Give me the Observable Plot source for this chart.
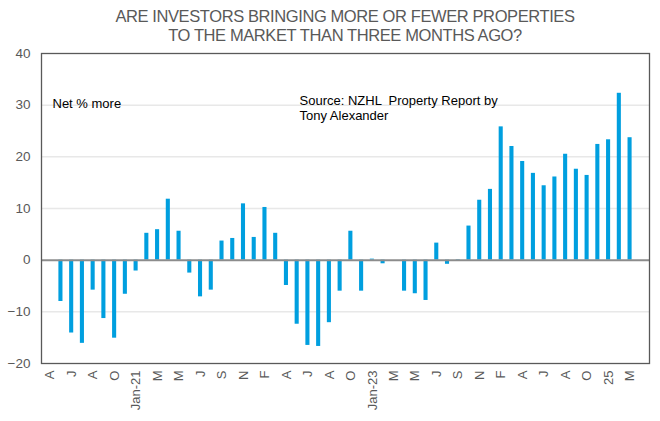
<!DOCTYPE html>
<html>
<head>
<meta charset="utf-8">
<script src="https://cdn.jsdelivr.net/npm/d3@7"></script>
<script src="https://cdn.jsdelivr.net/npm/@observablehq/plot@0.6"></script>
<style>
  html, body { margin: 0; padding: 0; background: #fff; }
  #wrap { width: 660px; height: 421px; position: relative; overflow: hidden; }
  #title { height: 45px; font-family: "Liberation Sans", Arial, sans-serif; font-size: 16.5px; color: #595959;
           text-align: center; line-height: 19px; padding-top: 7px; box-sizing: border-box; padding-left: 30px; letter-spacing: -0.4px; }
  svg { display: block; }
</style>
</head>
<body>
<div id="wrap">
  <div id="title">ARE INVESTORS BRINGING MORE OR FEWER PROPERTIES<br>TO THE MARKET THAN THREE MONTHS AGO?</div>
  <div id="chart"></div>
</div>
<script>
// Tick labels (every second period)
const tickLabels = ["A","J","A","O","Jan-21","M","M","J","S","N","F","A","J","A","O","Jan-23","M","M","J","S","N","F","A","J","A","O","25","M"];
// Net % more, one value per survey period (first and last period empty)
const values = [null, -8.0, -14.1, -16.1, -5.8, -11.3, -15.1, -6.6, -2.1, 5.2,
  5.9, 11.8, 5.6, -2.5, -7.1, -5.8, 3.7, 4.2, 10.9, 4.4,
  10.2, 5.2, -4.9, -12.4, -16.5, -16.7, -12.1, -6.0, 5.6, -6.0,
  0.2, -0.7, 0, -6.0, -6.5, -7.8, 3.3, -0.8, 0.1, 6.6,
  11.6, 13.7, 25.8, 22.0, 19.1, 16.8, 14.4, 16.1, 20.5, 17.6,
  16.4, 22.4, 23.3, 32.3, 23.7, null];
const yTicks = [-20, -10, 0, 10, 20, 30, 40];
const gridTicks = [-10, 10, 20, 30];
const noteLeft = "Net % more";
const noteSource = ["Source: NZHL  Property Report by", "Tony Alexander"];

const periods = values.map((v, i) => i);
const data = periods.map(i => ({period: i, value: values[i]}));
const labelAt = new Map(tickLabels.map((t, k) => [k * 2, t]));

const font = "'Liberation Sans', Arial, sans-serif";

const chart = Plot.plot({
  width: 660,
  height: 376,
  marginTop: 8,
  marginBottom: 58,
  marginLeft: 41,
  marginRight: 11,
  style: {fontFamily: font, fontSize: "13px", color: "#595959", background: "#fff"},
  x: {type: "band", domain: periods, padding: 0.62, align: 0.5},
  y: {domain: [-20, 40]},
  marks: [
    Plot.ruleY(gridTicks, {stroke: "#e8e8e8", strokeWidth: 1.5}),
    Plot.barY(data.filter(d => d.value != null), {x: "period", y: "value", fill: "#009FDF"}),
    Plot.ruleY([0], {stroke: "#8c8c8c", strokeWidth: 2}),
    Plot.frame({stroke: "#595959", strokeWidth: 1.3}),
    Plot.axisY({ticks: yTicks, tickSize: 0, tickPadding: 11, fontSize: 13.5, fill: "#595959", label: null}),
    Plot.axisX({ticks: [...labelAt.keys()], tickFormat: d => labelAt.get(d), tickSize: 0, tickPadding: 7,
      tickRotate: -90, fontSize: 13, fill: "#595959", label: null}),
    Plot.text([noteLeft], {frameAnchor: "top-left", dx: 11, dy: 45, text: d => d, fontSize: 13, fill: "#000", textAnchor: "start"}),
    Plot.text([noteSource.join("\n")], {frameAnchor: "top-left", dx: 258, dy: 40, text: d => d, fontSize: 13, fill: "#000", textAnchor: "start", lineHeight: 1.2})
  ]
});
document.getElementById("chart").appendChild(chart);
</script>
</body>
</html>
